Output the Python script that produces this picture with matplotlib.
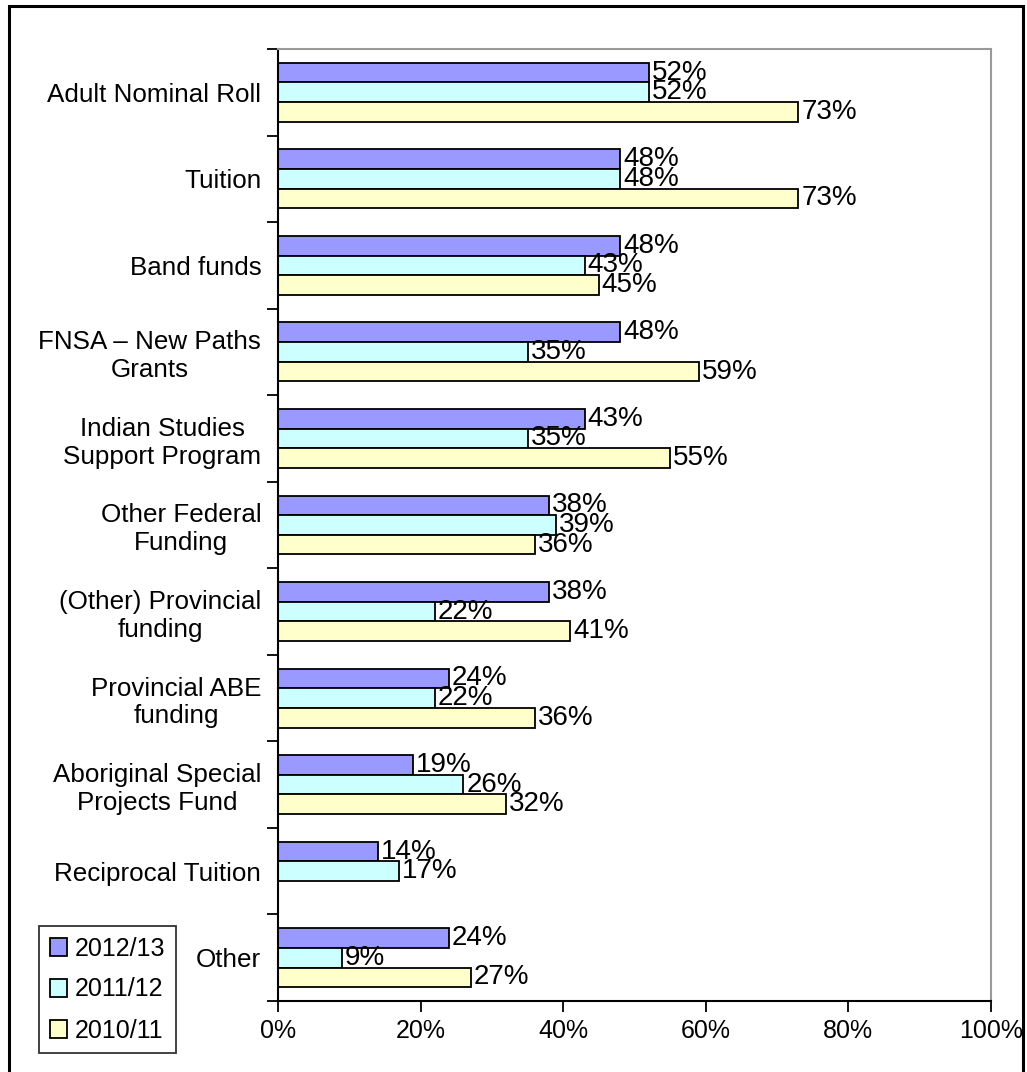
import numpy as np
import matplotlib
matplotlib.use("Agg")
import matplotlib.pyplot as plt
from matplotlib.patches import Rectangle

plt.rcParams['font.family'] = ['Liberation Sans', 'DejaVu Sans']

categories = [
    "Adult Nominal Roll",
    "Tuition",
    "Band funds",
    "FNSA \u2013 New Paths\nGrants",
    "Indian Studies\nSupport Program",
    "Other Federal\nFunding",
    "(Other) Provincial\nfunding",
    "Provincial ABE\nfunding",
    "Aboriginal Special\nProjects Fund",
    "Reciprocal Tuition",
    "Other",
]
series_names = ["2012/13", "2011/12", "2010/11"]
vals_2012 = [52, 48, 48, 48, 43, 38, 38, 24, 19, 14, 24]
vals_2011 = [52, 48, 43, 35, 35, 39, 22, 22, 26, 17, 9]
vals_2010 = [73, 73, 45, 59, 55, 36, 41, 36, 32, np.nan, 27]
colors = ["#9999FF", "#CCFFFF", "#FFFFCC"]

W, H = 1027, 1072
fig = plt.figure(figsize=(W / 100, H / 100), dpi=100)
ax = fig.add_axes([278 / W, 1 - 1001 / H, (991 - 278) / W, (1001 - 49) / H])

y = np.arange(len(categories))
bh = 0.227
for k, (vals, col, name) in enumerate(zip([vals_2012, vals_2011, vals_2010], colors, series_names)):
    pos = y + (k - 1) * bh
    v = np.array(vals, dtype=float)
    ok = ~np.isnan(v)
    ax.barh(pos[ok], v[ok], height=bh, color=col, edgecolor="black", linewidth=1.3, label=name)
    for p, val in zip(pos[ok], v[ok]):
        ax.text(val + 0.4, p, f"{int(val)}%", va="center", ha="left", fontsize=20)

ax.set_xlim(0, 100)
ax.set_ylim(len(categories) - 0.5, -0.5)
ax.set_xticks(np.arange(0, 101, 20))
ax.set_xticklabels([f"{t}%" for t in range(0, 101, 20)], fontsize=18)
ax.set_yticks(y)
ax.set_yticklabels(categories, fontsize=18.7, multialignment="center")
ax.set_yticks(np.arange(-0.5, len(categories), 1), minor=True)
ax.tick_params(axis="y", which="major", length=0, pad=12)
ax.tick_params(axis="y", which="minor", length=8, width=1.3)
ax.tick_params(axis="x", length=8, width=1.3, pad=5)

for s in ["top", "right"]:
    ax.spines[s].set_color("#999999")
    ax.spines[s].set_linewidth(1.5)
for s in ["left", "bottom"]:
    ax.spines[s].set_color("black")
    ax.spines[s].set_linewidth(1.5)

leg = fig.legend(loc="lower left", bbox_to_anchor=(39 / W, 1 - 1053 / H), fontsize=18,
                 frameon=True, fancybox=False, edgecolor="black", handlelength=0.7,
                 handleheight=0.7, handletextpad=0.3, labelspacing=0.68, borderpad=0.42,
                 borderaxespad=0)
leg.get_frame().set_linewidth(1.3)

fig.patches.append(Rectangle((9 / W, -0.05), (1023 - 9) / W, 1 - 6 / H + 0.05,
                             transform=fig.transFigure, fill=False, edgecolor="black",
                             linewidth=2.2))

fig.savefig("out.png", dpi=100)
